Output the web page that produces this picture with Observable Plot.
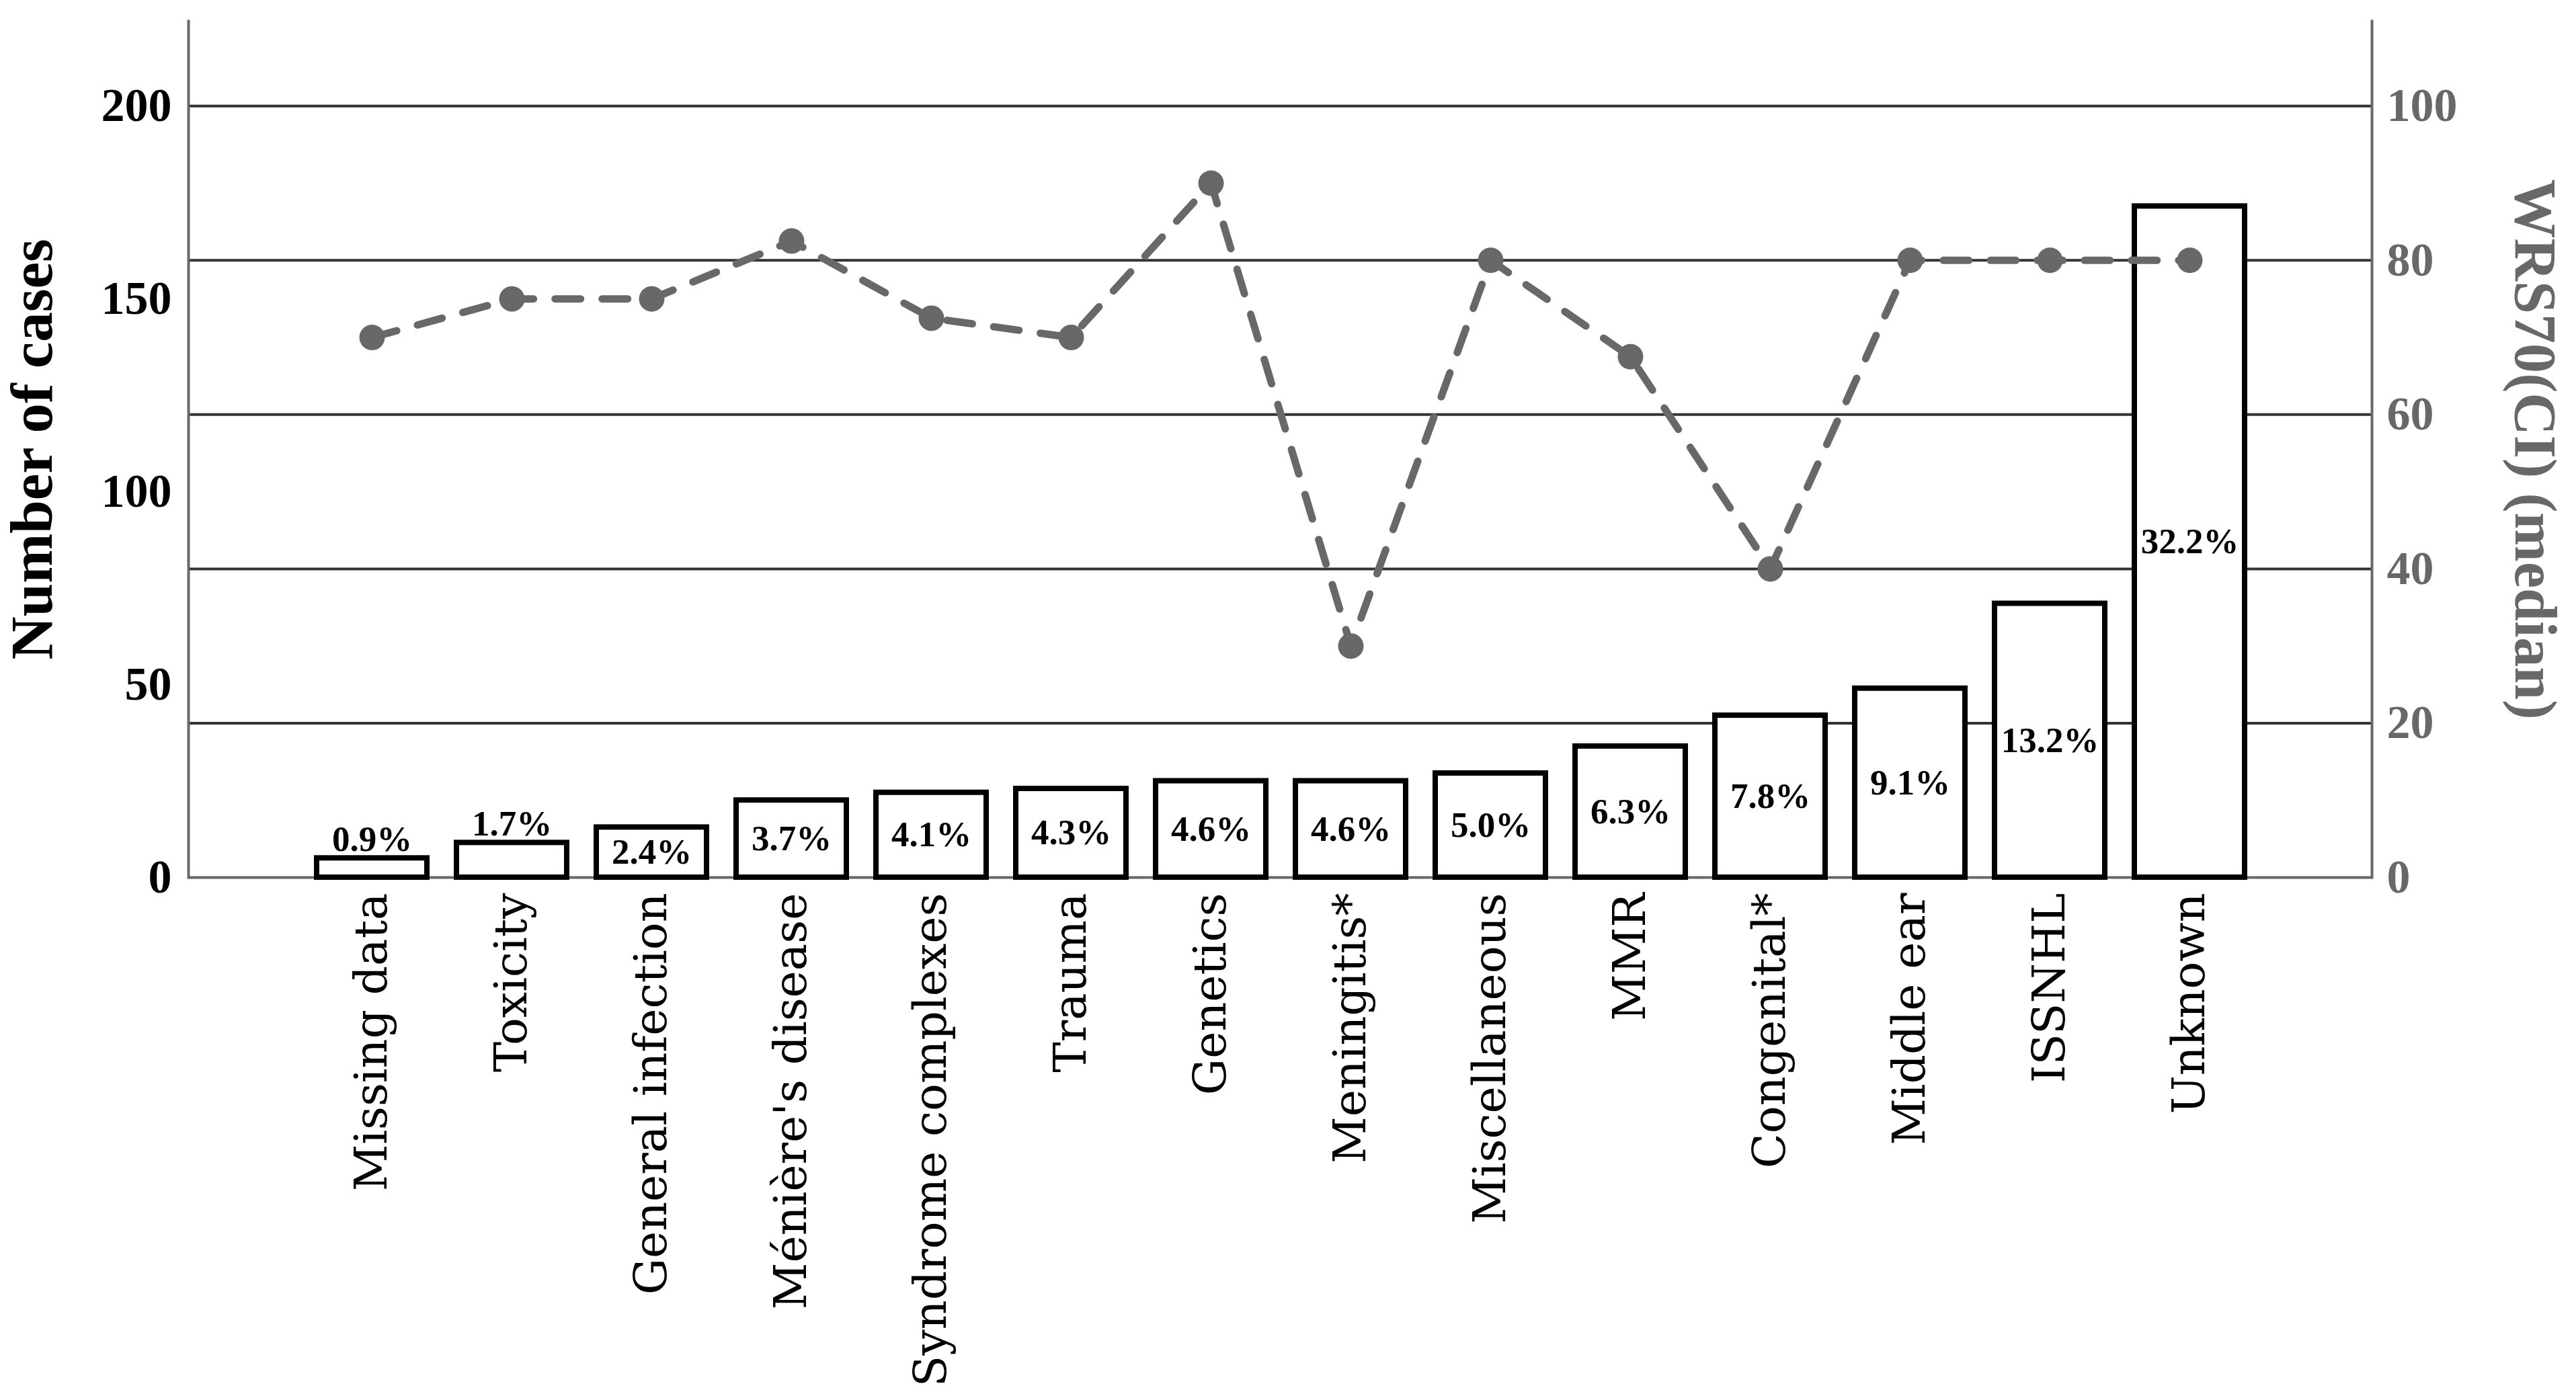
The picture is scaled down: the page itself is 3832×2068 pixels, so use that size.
<!DOCTYPE html>
<html><head><meta charset="utf-8">
<script src="https://cdn.jsdelivr.net/npm/d3@7"></script>
<script src="https://cdn.jsdelivr.net/npm/@observablehq/plot@0.6"></script>
<style>html,body{margin:0;padding:0;background:#fff;}</style>
</head><body><div id="chart"></div>
<script>
const categories = ["Missing data","Toxicity","General infection","Ménière's disease","Syndrome complexes","Trauma","Genetics","Meningitis*","Miscellaneous","MMR","Congenital*","Middle ear","ISSNHL","Unknown"];
const cases = [5,9,13,20,22,23,25,25,27,34,42,49,71,174];
const percents = ["0.9","1.7","2.4","3.7","4.1","4.3","4.6","4.6","5.0","6.3","7.8","9.1","13.2","32.2"];
const wrsMedian = [70,75,75,82.5,72.5,70,90,30,80,67.5,40,80,80,80];
const leftTicks = [0,50,100,150,200];
const rightTicks = [0,20,40,60,80,100];
const leftTitle = "Number of cases";
const rightTitle = "WRS70(CI) (median)";
const rightToLeft = 2; // right axis value * 2 = left axis value

const data = categories.map((c,i)=>({cat:c, cases:cases[i], pct:percents[i], wrs:wrsMedian[i]}));
const gray = "#686868";

const chart = Plot.plot({
  width: 3832, height: 2068,
  marginTop: 31, marginBottom: 763, marginLeft: 280, marginRight: 304,
  style: {background:"white", fontFamily:"'Liberation Serif', serif", overflow:"visible"},
  x: {domain: categories, padding: 0.21, insetLeft: 142, insetRight: 140},
  y: {domain: [0, 222]},
  marks: [
    Plot.gridY(rightTicks.filter(v=>v>0).map(v=>v*rightToLeft), {stroke:"#333", strokeOpacity:1, strokeWidth:4}),
    Plot.ruleY([0], {stroke:gray, strokeWidth:4}),
    Plot.frame({anchor:"left", stroke:gray, strokeWidth:4}),
    Plot.frame({anchor:"right", stroke:gray, strokeWidth:4}),
    Plot.barY(data, {x:"cat", y:"cases", fill:"white", stroke:"black", strokeWidth:8}),
    Plot.text(data, {filter:d=>d.cases<12, x:"cat", y:"cases", dy:-28, text:d=>d.pct+"%", fontSize:53, fontWeight:"bold", fontFamily:"Liberation Serif", fill:"black"}),
    Plot.text(data, {filter:d=>d.cases>=12, x:"cat", y:d=>d.cases/2, text:d=>d.pct+"%", fontSize:53, fontWeight:"bold", fontFamily:"Liberation Serif", fill:"black"}),
    Plot.line(data, {x:"cat", y:d=>d.wrs*rightToLeft, stroke:gray, strokeWidth:11, strokeDasharray:"38,32"}),
    Plot.dot(data, {x:"cat", y:d=>d.wrs*rightToLeft, r:19, fill:gray, stroke:"none"}),
    Plot.axisY(leftTicks, {anchor:"left", tickSize:0, tickPadding:25, fontSize:70, fontWeight:"bold", fontFamily:"Liberation Serif", color:"black", label:null}),
    Plot.axisY(rightTicks.map(v=>v*rightToLeft), {anchor:"right", tickSize:0, tickPadding:22, tickFormat:d=>d/rightToLeft, fontSize:70, fontWeight:"bold", fontFamily:"Liberation Serif", color:gray, label:null}),
    Plot.axisX({anchor:"bottom", tickSize:0, tickPadding:23, tickRotate:-90, fontSize:68, fontFamily:"DejaVu Serif", color:"black", label:null}),
    Plot.text([leftTitle], {frameAnchor:"left", textAnchor:"middle", dx:-232, rotate:-90, text:d=>d, fontSize:89, fontWeight:"bold", fontFamily:"Liberation Serif", fill:"black"}),
    Plot.text([rightTitle], {frameAnchor:"right", textAnchor:"middle", dx:242, rotate:90, text:d=>d, fontSize:88, fontWeight:"bold", fontFamily:"Liberation Serif", fill:gray})
  ]
});
document.getElementById("chart").appendChild(chart);
</script>
</body></html>
